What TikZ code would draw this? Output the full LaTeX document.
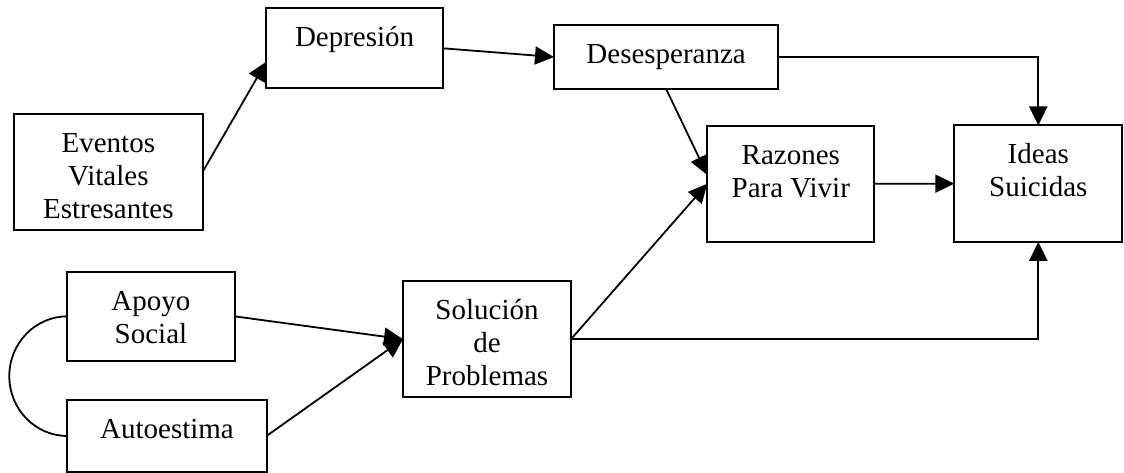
\documentclass[tikz,border=0pt]{standalone}
\usepackage{fontspec}
\setmainfont{Liberation Serif}
\usetikzlibrary{arrows.meta,calc}

% text block of a box: fixed width and height, lines set from the top
\newcommand\boxtext[3]{\parbox[t][#2][t]{#1}{\centering\rule{0pt}{38.5pt}#3}}

\tikzset{
  box/.style={draw, line width=2pt, inner sep=0pt, outer sep=0pt, anchor=north west,
    font=\fontsize{29}{33}\selectfont},
  link/.style={line width=1.8pt, -{Triangle[length=19pt,width=18pt]}},
  bond/.style={line width=1.8pt},
}

\begin{document}
\begin{tikzpicture}[x=1pt,y=-1pt]
  \useasboundingbox (0,0) rectangle (1124,473);

  % boxes
  \node[box] (dep) at (266.3,8.3)   {\boxtext{176.6pt}{80pt}{Depresión}};
  \node[box] (eve) at (14,114)      {\boxtext{188.7pt}{115.5pt}{Eventos\\Vitales\\Estresantes}};
  \node[box] (des) at (554,25)      {\boxtext{224.3pt}{64pt}{Desesperanza}};
  \node[box] (raz) at (707.3,125.7) {\boxtext{167pt}{116pt}{Razones\\Para Vivir}};
  \node[box] (ide) at (954.3,125.5) {\boxtext{168pt}{116.3pt}{Ideas\\Suicidas}};
  \node[box] (apo) at (67.3,272)    {\boxtext{167.3pt}{88.7pt}{Apoyo\\Social}};
  \node[box] (aut) at (67.3,400)    {\boxtext{199.4pt}{71.7pt}{Autoestima}};
  \node[box] (sol) at (403,281)     {\boxtext{168pt}{116.3pt}{Solución\\de\\Problemas}};

  % paths between the boxes
  \draw[link] (eve.east) -- ($(dep.west)+(0,13.4)$);
  \draw[link] (dep.east) -- (des.west);
  \draw[link] (des.east) -| (ide.north);
  \draw[link] (des.south) -- ($(raz.west)+(0,-8.7)$);
  \draw[link] (sol.east) -- (raz.west);
  \draw[link] (sol.east) -| (ide.south);
  \draw[link] (raz.east) -- (ide.west);
  \draw[link] (apo.east) -- (sol.west);
  \draw[link] (aut.east) -- (sol.west);

  % correlation between social support and self-esteem
  \draw[bond] (apo.west) arc[start angle=90, end angle=270, x radius=58pt, y radius=59.8pt];
\end{tikzpicture}
\end{document}
